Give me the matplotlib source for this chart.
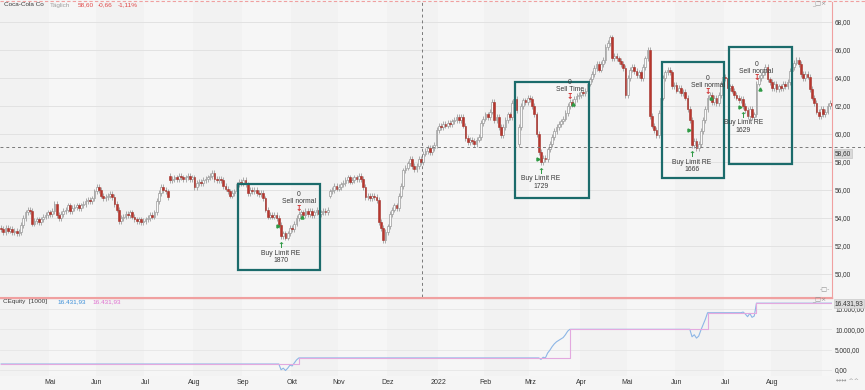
import numpy as np
import pandas as pd
import matplotlib
matplotlib.use("Agg")
import matplotlib.pyplot as plt
from matplotlib.patches import Rectangle
from matplotlib.transforms import blended_transform_factory

plt.rcParams['font.family'] = ['Liberation Sans', 'DejaVu Sans']

# ---------------- data ----------------
start_date = "2021-04-01"
closes = [
    53.2, 53.0, 53.3, 53.1, 53.2, 53.0, 53.1, 52.9, 53.0, 53.5,
    54.0, 54.4, 54.6, 54.5, 53.6, 53.8, 53.9, 53.7, 53.9, 54.1,
    54.2, 54.4, 54.3, 54.5, 55.0, 54.2, 54.0, 54.3, 54.5, 54.6,
    54.9, 54.5, 54.7, 54.8, 54.9, 54.7, 54.9, 55.0, 55.2, 55.3,
    55.2, 55.4, 55.9, 56.2, 56.0, 55.6, 55.4, 55.5, 55.6, 55.7,
    55.5, 55.0, 54.6, 53.8, 54.0, 54.1, 54.3, 54.2, 54.4, 54.1,
    53.9, 53.8, 53.9, 53.7, 53.8, 53.9, 54.0, 54.2, 54.1, 54.4,
    55.2, 55.8, 56.2, 56.0, 55.9, 55.5, 56.7, 56.8, 56.9, 56.8,
    57.0, 56.9, 56.8, 56.9, 57.0, 56.8, 56.9, 56.2, 56.5, 56.6,
    56.5, 56.7, 56.8, 56.9, 57.0, 57.2, 56.8, 56.7, 56.8, 56.7,
    56.3, 56.1, 55.9, 55.6, 55.8, 55.9, 56.4, 56.6, 56.5, 56.7,
    56.4, 55.8, 56.0, 55.9, 56.0, 55.8, 55.7, 55.8, 55.4, 54.6,
    54.1, 54.2, 54.1, 54.2, 54.0, 53.5, 52.7, 52.9, 52.6, 52.9,
    53.3, 53.2, 53.6, 54.0, 54.3, 54.4, 54.2, 54.5, 54.3, 54.5,
    54.2, 54.4, 54.6, 54.3, 54.4, 54.5, 54.4, 54.6, 55.9, 56.0,
    56.3, 56.1, 56.2, 56.4, 56.5, 56.7, 56.9, 56.6, 56.7, 56.9,
    56.8, 57.0, 56.8, 56.2, 55.5, 55.6, 55.4, 55.6, 55.5, 55.3,
    53.7, 53.3, 52.4, 53.0, 53.4, 54.3, 54.6, 54.9, 54.7, 55.6,
    56.3, 57.4, 57.6, 57.9, 58.2, 57.7, 57.5, 57.7, 58.2, 58.0,
    58.6, 58.8, 59.0, 58.7, 59.0, 59.2, 60.3, 60.6, 60.5, 60.7,
    60.6, 60.8, 60.7, 60.9, 61.0, 61.2, 61.0, 61.2, 60.6, 59.7,
    59.4, 59.6, 59.5, 59.3, 59.6, 59.8, 60.8, 61.1, 61.4, 61.2,
    61.6, 62.3, 61.0, 61.2, 60.5, 59.9, 60.5, 61.0, 61.4, 61.2,
    62.2, 62.5, 61.7, 60.5, 62.0, 62.4, 62.3, 62.6, 62.5, 62.0,
    61.4, 60.0, 58.7, 58.0, 58.3, 58.2, 58.9, 59.3, 59.8, 60.2,
    60.5, 60.7, 60.9, 61.1, 61.5, 62.0, 62.3, 62.1, 62.5, 62.7,
    62.8, 63.0, 62.9, 63.1, 63.6, 63.9, 64.3, 64.7, 65.0, 64.6,
    65.0, 65.3, 66.2, 66.5, 66.9, 65.4, 65.6, 65.4, 65.2, 65.0,
    64.7, 62.8, 64.0, 64.6, 64.8, 64.5, 64.2, 64.4, 64.0, 64.8,
    65.4, 66.0, 61.3, 60.6, 60.3, 59.9, 61.5, 62.6, 64.0, 64.4,
    64.6, 64.4, 63.4, 63.5, 63.1, 63.3, 62.9, 63.0, 62.6, 61.8,
    61.0, 59.2, 59.5, 59.0, 59.3, 60.2, 61.0, 61.8, 62.6, 62.8,
    62.3, 62.6, 62.2, 62.8, 63.6, 64.1, 64.0, 63.3, 63.4, 63.1,
    62.8, 62.6, 62.4, 62.5, 62.0, 61.7, 61.3, 61.8, 61.2, 61.4,
    63.6, 64.0, 64.2, 64.4, 64.8, 63.9, 63.7, 63.3, 63.6, 63.2,
    63.4, 63.3, 63.6, 63.4, 63.7, 64.5, 64.8, 65.1, 65.3, 65.0,
    64.3, 64.0, 64.3, 64.1, 63.2, 62.6, 62.2, 61.6, 61.3, 61.8,
    61.4, 61.6, 62.0, 62.2, 62.1,
]
gap_opens = {76: 57.0, 148: 55.6, 233: 59.3}

month_labels = ['Mai', 'Jun', 'Jul', 'Aug', 'Sep', 'Okt', 'Nov', 'Dez', '2022',
                'Feb', 'Mrz', 'Apr', 'Mai', 'Jun', 'Jul', 'Aug']
price_ticks = [50, 52, 54, 56, 58, 60, 62, 64, 66, 68]
equity_ticks = [0, 5000, 10000, 15000]

trade_entry_bar = [126, 243, 311, 334]
trade_entry_price = [53.45, 58.20, 60.30, 61.90]
trade_exit_bar = [134, 256, 318, 340]
trade_exit_price = [54.25, 62.27, 62.75, 63.34]
trade_shares = [1870, 1729, 1666, 1629]
trade_entry_label = ['Buy Limit RE'] * 4
trade_exit_label = ['Sell normal', 'Sell Time', 'Sell normal', 'Sell normal']
start_equity = 1470.0

box_start_bar = [106.8, 231.2, 297.6, 327.5]
box_end_bar = [143.6, 264.6, 325.4, 356.2]
box_low = [50.29, 55.45, 56.84, 57.84]
box_high = [56.43, 63.69, 65.12, 66.19]

crosshair_bar = 189.5
crosshair_price = 59.07
last_price = 58.60
last_price_text = "58,60"
equity_text = "16.431,93"
header_name = "Coca-Cola Co"
header_period = "Täglich"
header_values = ["58,60", "-0,66", "-1,11%"]

# ---------------- derived ----------------
n = len(closes)
idx = np.arange(n)
c = np.array(closes, dtype=float)
o = np.r_[c[0] + 0.1, c[:-1]]
for k, v in gap_opens.items():
    o[k] = v
WICK = 0.2
hi = np.maximum(o, c) + WICK
lo = np.minimum(o, c) - WICK
dates = pd.bdate_range(start_date, periods=n)

pink = np.full(n, start_equity)
for eb, ep, xb, xp, sh in zip(trade_entry_bar, trade_entry_price, trade_exit_bar,
                              trade_exit_price, trade_shares):
    pink[xb:] += sh * (xp - ep)
blue = pink.copy()
for eb, ep, xb, sh in zip(trade_entry_bar, trade_entry_price, trade_exit_bar, trade_shares):
    blue[eb:xb] = pink[eb:xb] + sh * (c[eb:xb] - ep)

# ---------------- figure ----------------
W, H = 865, 390
fig = plt.figure(figsize=(W / 100, H / 100), dpi=100, facecolor='#f5f5f5')

def fx(x):
    return x / W

def fy(y):
    return 1 - y / H

ax = fig.add_axes([0, fy(297), 832 / W, 295 / H])
ax2 = fig.add_axes([0, fy(376), 832 / W, 77 / H])
xlim = (-0.51, 374.0)
for a in (ax, ax2):
    a.set_xlim(*xlim)
    a.set_facecolor('#f4f4f4')

ax.set_ylim(48.36, 69.43)
ax2.set_ylim(-1475, 17458)

# month bands
mid = dates.year * 12 + dates.month
ums = pd.unique(mid)
month_first = []
for k, m in enumerate(ums):
    sel = np.where(mid == m)[0]
    month_first.append(sel[0])
    col = '#f6f6f6' if k % 2 else '#f2f2f2'
    for a in (ax, ax2):
        a.axvspan(sel[0] - 0.5, sel[-1] + 0.5, color=col, zorder=0, lw=0)

# grid
ax.set_yticks(price_ticks)
ax.set_yticklabels([f"{t:.2f}".replace('.', ',') for t in price_ticks])
for t in price_ticks:
    ax.axhline(t, color='#e2e2e2', lw=0.7, zorder=0.5)
ax2.set_yticks(equity_ticks)
ax2.set_yticklabels([f"{t:,.2f}".replace(',', 'X').replace('.', ',').replace('X', '.')
                     for t in equity_ticks])
for t in equity_ticks:
    ax2.axhline(t, color='#e6e6e6', lw=0.6, zorder=0.5)

for a in (ax, ax2):
    a.tick_params(axis='y', right=True, left=False, labelright=True, labelleft=False,
                  length=0, pad=2.2, labelsize=4.7, colors='#333333')
    for s in a.spines.values():
        s.set_visible(False)
ax.tick_params(axis='x', bottom=False, labelbottom=False)
ax.spines['right'].set_visible(True)
ax.spines['right'].set_color('#f0a0a0')
ax.spines['bottom'].set_visible(True)
ax.spines['bottom'].set_color('#f0a0a0')

# candles
up = c >= o
body_lo = np.minimum(o, c)
body_h = np.maximum(np.abs(c - o), 0.05)
ax.vlines(idx, lo, hi, color='#8e8e8e', lw=0.5, zorder=2)
ax.bar(idx[up], body_h[up], bottom=body_lo[up], width=0.8, color='#fbfbfb',
       edgecolor='#9a9a9a', lw=0.5, zorder=3)
ax.bar(idx[~up], body_h[~up], bottom=body_lo[~up], width=0.8, color='#b8362c',
       edgecolor='#a3302a', lw=0.4, zorder=3)

# crosshair
ax.axvline(crosshair_bar, color='#7a7a7a', lw=0.7, ls=(0, (3, 3)), zorder=4)
ax.axhline(crosshair_price, xmin=0, xmax=W / 832, color='#7a7a7a', lw=0.7,
           ls=(0, (3, 3)), zorder=4, clip_on=False)
tr = blended_transform_factory(ax.transAxes, ax.transData)
ax.text(1.003, last_price, last_price_text, transform=tr, fontsize=4.7, color='#333333',
        va='center', ha='left',
        bbox=dict(boxstyle='square,pad=0.15', fc='#d9d9d9', ec='#bbbbbb', lw=0.4))

# trades
green = '#2f9a45'
txtc = '#3a3a3a'
fs = 4.9
for k in range(len(trade_entry_bar)):
    eb, ep = trade_entry_bar[k], trade_entry_price[k]
    xb, xp = trade_exit_bar[k], trade_exit_price[k]
    ax.add_patch(Rectangle((box_start_bar[k], box_low[k]),
                           box_end_bar[k] - box_start_bar[k], box_high[k] - box_low[k],
                           fill=False, ec='#1b6b6b', lw=1.6, zorder=6))
    ya = lo[eb] - 0.45
    ax.text(eb, ya, '↑', color=green, fontsize=6, fontweight='bold', ha='center',
            va='center', family='DejaVu Sans', zorder=7)
    ax.annotate(trade_entry_label[k], (eb, ya), xytext=(0, -5.6), textcoords='offset points',
                ha='center', va='center', fontsize=fs, color=txtc, zorder=7)
    ax.annotate(str(trade_shares[k]), (eb, ya), xytext=(0, -11.2), textcoords='offset points',
                ha='center', va='center', fontsize=fs, color=txtc, zorder=7)
    ax.plot(eb - 1.2, ep, marker='>', ms=2.2, color=green, mec=green, zorder=7)
    ym = max(hi[xb], hi[xb - 1]) + 0.2
    ax.text(xb, ym, '↧', color='#d03030', fontsize=5.5, fontweight='bold', ha='center',
            va='center', family='DejaVu Sans', zorder=7)
    ax.annotate(trade_exit_label[k], (xb, ym), xytext=(0, 4.6), textcoords='offset points',
                ha='center', va='center', fontsize=fs, color=txtc, zorder=7)
    ax.annotate('0', (xb, ym), xytext=(0, 10.0), textcoords='offset points',
                ha='center', va='center', fontsize=fs, color=txtc, zorder=7)
    ax.plot(xb + 1.5, xp - 0.15, marker='^', ms=2.2, color=green, mec=green, zorder=7)

# equity panel
ax2.plot(idx, blue, color='#8db6e6', lw=0.8, zorder=3)
ax2.plot(idx, pink, color='#e3a9df', lw=0.8, zorder=4, drawstyle='steps-post')
ticks_x = month_first[1:1 + len(month_labels)]
ax2.set_xticks(ticks_x)
ax2.set_xticklabels(month_labels)
ax2.tick_params(axis='x', length=0, pad=1.8, labelsize=5, colors='#333333')
tr2 = blended_transform_factory(ax2.transAxes, ax2.transData)
ax2.text(1.003, 16431.93, equity_text, transform=tr2, fontsize=4.7, color='#333333',
         va='center', ha='left',
         bbox=dict(boxstyle='square,pad=0.15', fc='#dcdcdc', ec='#c4c4c4', lw=0.4))

# header / titles
fig.text(fx(4), fy(5), header_name, fontsize=4.6, color='#3c3c3c', va='center')
fig.text(fx(50), fy(5), header_period, fontsize=4.6, color='#a0a0a0', va='center')
hx = [78, 98, 118]
for xx, t in zip(hx, header_values):
    fig.text(fx(xx), fy(5), t, fontsize=4.6, color='#e04848', va='center')
fig.text(fx(3), fy(302), 'CEquity  [1000]', fontsize=4.6, color='#3c3c3c', va='center')
fig.text(fx(57), fy(302), equity_text, fontsize=4.6, color='#3a8ed8', va='center')
fig.text(fx(92), fy(302), equity_text, fontsize=4.6, color='#e070d0', va='center')

# small window widgets
fig.text(fx(812), fy(4), '_□×', fontsize=4.5, color='#909090', va='center',
         family='DejaVu Sans')
fig.text(fx(812), fy(300), '_□×', fontsize=4.5, color='#909090', va='center',
         family='DejaVu Sans')
fig.text(fx(820), fy(290), '-□-', fontsize=4.5, color='#909090', va='center',
         family='DejaVu Sans')
fig.text(fx(836), fy(381), '↔↔ ^^', fontsize=4.5, color='#909090', va='center',
         family='DejaVu Sans')
fig.add_artist(plt.Line2D([0, 1], [fy(1), fy(1)], color='#f0a0a0', lw=0.8,
                          ls=(0, (3, 2)), transform=fig.transFigure))
fig.add_artist(plt.Line2D([0, 832 / W], [fy(297.5), fy(297.5)], color='#f0a0a0', lw=1.0,
                          transform=fig.transFigure))

fig.savefig('out.png', dpi=100, facecolor=fig.get_facecolor())
